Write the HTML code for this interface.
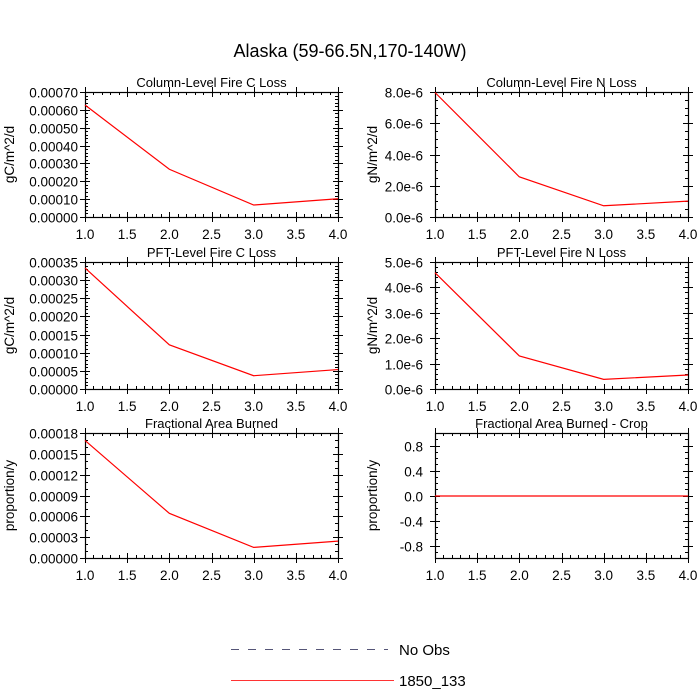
<!DOCTYPE html>
<html><head><meta charset="utf-8"><style>
html,body{margin:0;padding:0;background:#fff;}
svg{display:block;font-family:"Liberation Sans",sans-serif;}
</style></head><body>
<svg id="chart" width="700" height="700" viewBox="0 0 700 700">
<text x="350" y="57" font-size="18" text-anchor="middle">Alaska (59-66.5N,170-140W)</text>
<g id="panels"></g>
<g>
<line x1="231" y1="649.5" x2="388" y2="649.5" stroke="#555577" stroke-width="1" stroke-dasharray="8,9"/>
<text x="399" y="655" font-size="15">No Obs</text>
<line x1="231" y1="680.5" x2="394" y2="680.5" stroke="#ff3333" stroke-width="1"/>
<text x="399" y="686" font-size="15">1850_133</text>
</g>
</svg>
<script>
const xCats = [1, 2, 3, 4];
const xTicks = ["1.0","1.5","2.0","2.5","3.0","3.5","4.0"];
const titles = ["Column-Level Fire C Loss","Column-Level Fire N Loss","PFT-Level Fire C Loss","PFT-Level Fire N Loss","Fractional Area Burned","Fractional Area Burned - Crop"];
const yTitles = ["gC/m^2/d","gN/m^2/d","gC/m^2/d","gN/m^2/d","proportion/y","proportion/y"];
const colCLoss = [0.00063, 0.00027, 0.00007, 0.000105];
const colNLoss = [8.0e-6, 2.6e-6, 0.75e-6, 1.05e-6];
const pftCLoss = [0.000335, 0.000123, 0.000038, 0.000055];
const pftNLoss = [4.6e-6, 1.32e-6, 0.4e-6, 0.57e-6];
const fracBurn = [0.00017, 0.000065, 0.000016, 0.000025];
const fracCrop = [0, 0, 0, 0];
const yTicks1 = ["0.00000","0.00010","0.00020","0.00030","0.00040","0.00050","0.00060","0.00070"];
const yTicks2 = ["0.0e-6","2.0e-6","4.0e-6","6.0e-6","8.0e-6"];
const yTicks3 = ["0.00000","0.00005","0.00010","0.00015","0.00020","0.00025","0.00030","0.00035"];
const yTicks4 = ["0.0e-6","1.0e-6","2.0e-6","3.0e-6","4.0e-6","5.0e-6"];
const yTicks5 = ["0.00000","0.00003","0.00006","0.00009","0.00012","0.00015","0.00018"];
const yTicks6 = ["-0.8","-0.4","0.0","0.4","0.8"];

const NS="http://www.w3.org/2000/svg";
const root=document.getElementById('panels');
function mk(tag,attrs,parent){const e=document.createElementNS(NS,tag);for(const k in attrs)e.setAttribute(k,attrs[k]);parent.appendChild(e);return e;}

const series=[colCLoss,colNLoss,pftCLoss,pftNLoss,fracBurn,fracCrop];
const yLabs=[yTicks1,yTicks2,yTicks3,yTicks4,yTicks5,yTicks6];
const yCfg=[[0,0.0007,0.0001,5],[0,8e-6,2e-6,4],[0,0.00035,0.00005,5],[0,5e-6,1e-6,5],[0,0.00018,0.00003,3],[-1,1,0.4,4]];
const cols=[85,435], rows=[[92,217],[262,389],[433,558]], W=253;
const slugs=["column-c-loss","column-n-loss","pft-c-loss","pft-n-loss","frac-area-burned","frac-area-burned-crop"];

for(let i=0;i<6;i++){
  const x0=cols[i%2], y0=rows[Math.floor(i/2)][0], y1=rows[Math.floor(i/2)][1];
  const [ymin,ymax,step,nm]=yCfg[i];
  const g=mk('g',{},root);
  
  
  const sx=v=>x0+(v-1)/3*W;
  const sy=v=>y1-(v-ymin)/(ymax-ymin)*(y1-y0);
  const tk=mk('g',{stroke:'#000','stroke-width':1},g);
  for(let k=0;k<=30;k++){
    const xv=1+k*0.1, px=Math.round(sx(xv))+0.5; const major=k%5===0;
    const L=major?5:3;
    mk('line',{x1:px,y1:y1,x2:px,y2:y1-L},tk);
    mk('line',{x1:px,y1:y0,x2:px,y2:y0+L},tk);
    if(major){mk('line',{x1:px,y1:y1,x2:px,y2:y1+5},tk);mk('line',{x1:px,y1:y0,x2:px,y2:y0-5},tk);}
  }
  const labs=yLabs[i];
  const first = i===5? -0.8 : ymin;
  for(let k=0;k<labs.length;k++){
    const v=first+k*step, py=Math.round(sy(v))+0.5;
    mk('line',{x1:x0-5,y1:py,x2:x0+5,y2:py},tk);
    mk('line',{x1:x0+W-5,y1:py,x2:x0+W+5,y2:py},tk);
    const t=mk('text',{x:x0-(i%2?12:7),y:py+5,'font-size':13.5,'text-anchor':'end',stroke:'none',fill:'#000'},g);
    t.textContent=labs[k];
    
    
  }
  const mstep=step/nm;
  for(let v=first-step; v<=ymax+1e-12; v+=mstep){
    if(v<ymin-1e-12) continue;
    const py=Math.round(sy(v))+0.5;
    mk('line',{x1:x0,y1:py,x2:x0+3,y2:py},tk);
    mk('line',{x1:x0+W,y1:py,x2:x0+W-3,y2:py},tk);
  }
  mk('rect',{x:x0+0.5,y:y0+0.5,width:W,height:y1-y0,fill:'none',stroke:'#000','stroke-width':1.2},g);
  for(let k=0;k<xTicks.length;k++){
    const t=mk('text',{x:sx(1+k*0.5),y:y1+22,'font-size':13.5,'text-anchor':'middle'},g);
    t.textContent=xTicks[k];
    
    
  }
  const tt=mk('text',{x:x0+W/2,y:y0-5,'font-size':13,'text-anchor':'middle'},g);
  tt.textContent=titles[i];
  
  
  const yt=mk('text',{x:0,y:0,'font-size':13.5,'text-anchor':'middle',transform:`translate(${x0-(i%2?58:71)},${(y0+y1)/2}) rotate(-90)`},g);
  yt.textContent=yTitles[i];
  
  
  const pts=xCats.map((c,j)=>sx(c)+','+(sy(series[i][j])+0.5)).join(' ');
  const pl=mk('polyline',{points:pts,fill:'none',stroke:'#ff0000','stroke-width':1.2},g);
  
  
}
</script>
</body></html>
